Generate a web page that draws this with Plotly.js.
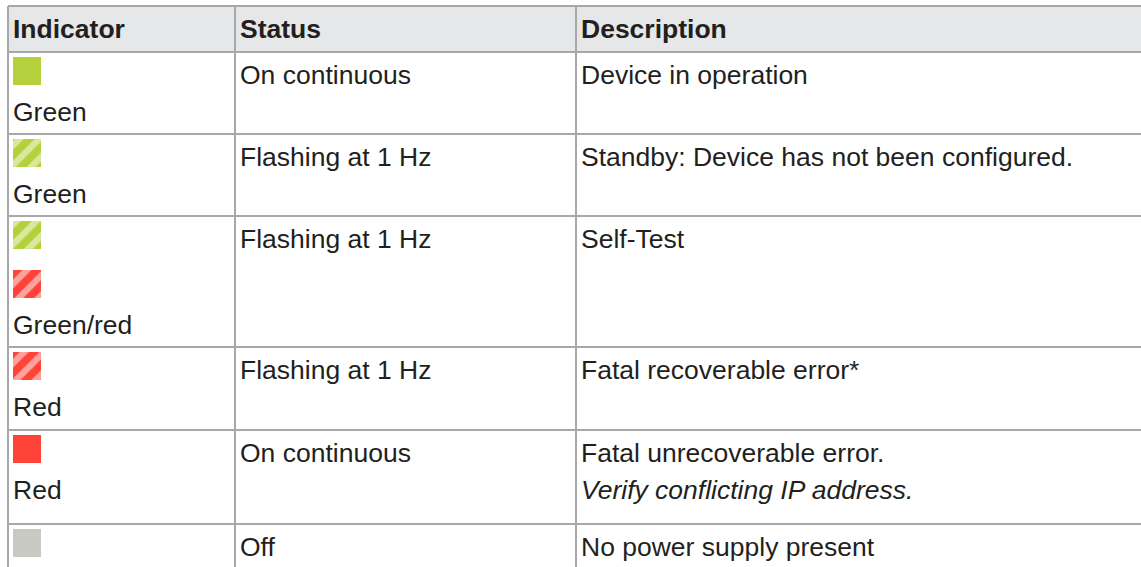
<!DOCTYPE html>
<html>
<head>
<meta charset="utf-8">
<script src="https://cdn.plot.ly/plotly-3.0.1.min.js"></script>
<style>html,body{margin:0;padding:0;background:#fff;}#chart{width:1141px;height:567px;}</style>
</head>
<body>
<div id="chart"></div>
<script>
// ---- data ----
var headers = ["Indicator", "Status", "Description"];
var indicatorLabels = ["Green", "Green", "Green/red", "Red", "Red", ""];
var statuses = ["On continuous", "Flashing at 1 Hz", "Flashing at 1 Hz", "Flashing at 1 Hz", "On continuous", "Off"];
var descriptions = ["Device in operation", "Standby: Device has not been configured.", "Self-Test", "Fatal recoverable error*", "Fatal unrecoverable error.", "No power supply present"];
var descriptionNotes = ["", "", "", "", "Verify conflicting IP address.", ""];
// icons per row: [colour key, flashing?]
var rowIcons = [
  [["green", false]],
  [["green", true]],
  [["green", true], ["red", true]],
  [["red", true]],
  [["red", false]],
  [["grey", false]]
];

// ---- layout constants (pixels) ----
var W = 1141, H = 567;
var palette = {green: "#b4d03c", red: "#ff4338", grey: "#c9c9c4"};
var tableLeft = 8, tableTop = 6, headerBottom = 52;
var colX = [8, 235, 576];
var textX = [13, 240, 581];
var rowTops = [52, 134, 216, 347, 430, 524];
var iconSize = 28, iconGap = 49;
var fontFam = "Liberation Sans, Arial, Helvetica, sans-serif";
var fs = 26.5;
var txtColor = "#231f20";
var borderColor = "#a8a8a8";

var traces = [];
var shapes = [];
var annotations = [];

// header background
shapes.push({type: "rect", xref: "x", yref: "y", x0: tableLeft, x1: W + 5, y0: tableTop, y1: headerBottom,
  fillcolor: "#e6e7e8", line: {width: 0}, layer: "below"});

// horizontal lines
var hLines = [tableTop].concat(rowTops);
hLines.forEach(function (y) {
  shapes.push({type: "line", xref: "x", yref: "y", x0: tableLeft, x1: W + 5, y0: y, y1: y,
    line: {color: borderColor, width: 2}});
});
// vertical lines
colX.forEach(function (x) {
  shapes.push({type: "line", xref: "x", yref: "y", x0: x, x1: x, y0: tableTop, y1: H + 5,
    line: {color: borderColor, width: 2}});
});

function addText(x, y, txt) {
  annotations.push({x: x, y: y, xref: "x", yref: "y", text: txt, showarrow: false, xanchor: "left", yanchor: "middle",
    font: {family: fontFam, size: fs, color: txtColor}});
}

// header text
headers.forEach(function (h, i) {
  addText(textX[i] - 2, 29, "<b>" + h + "</b>");
});

// rows
rowTops.forEach(function (rowTop, r) {
  var icons = rowIcons[r];
  icons.forEach(function (ic, j) {
    var y0 = rowTop + 5 + j * iconGap, y1 = y0 + iconSize;
    var x0 = textX[0], x1 = x0 + iconSize;
    var col = palette[ic[0]];
    var t = {x: [x0, x1, x1, x0, x0], y: [y0, y0, y1, y1, y0], mode: "lines", fill: "toself",
      fillcolor: col, line: {width: 0, color: col}, hoverinfo: "skip", showlegend: false};
    if (ic[1]) {
      t.fillpattern = {shape: "/", fgcolor: "#ffffff", bgcolor: col, size: 14, solidity: 0.45, fillmode: "overlay"};
    }
    traces.push(t);
  });
  var labelY = rowTop + 5 + (icons.length - 1) * iconGap + iconSize + 27;
  if (indicatorLabels[r]) addText(textX[0] - 2, labelY, indicatorLabels[r]);
  addText(textX[1] - 2, rowTop + 23, statuses[r]);
  addText(textX[2] - 2, rowTop + 23, descriptions[r]);
  if (descriptionNotes[r]) addText(textX[2] - 2, labelY, "<i>" + descriptionNotes[r] + "</i>");
});

var layout = {
  width: W, height: H,
  margin: {l: 0, r: 0, t: 0, b: 0},
  paper_bgcolor: "#ffffff", plot_bgcolor: "#ffffff",
  xaxis: {range: [0, W], visible: false, fixedrange: true},
  yaxis: {range: [H, 0], visible: false, fixedrange: true},
  shapes: shapes,
  annotations: annotations,
  showlegend: false
};

Plotly.newPlot("chart", traces, layout, {displayModeBar: false, staticPlot: true});
</script>
</body>
</html>
